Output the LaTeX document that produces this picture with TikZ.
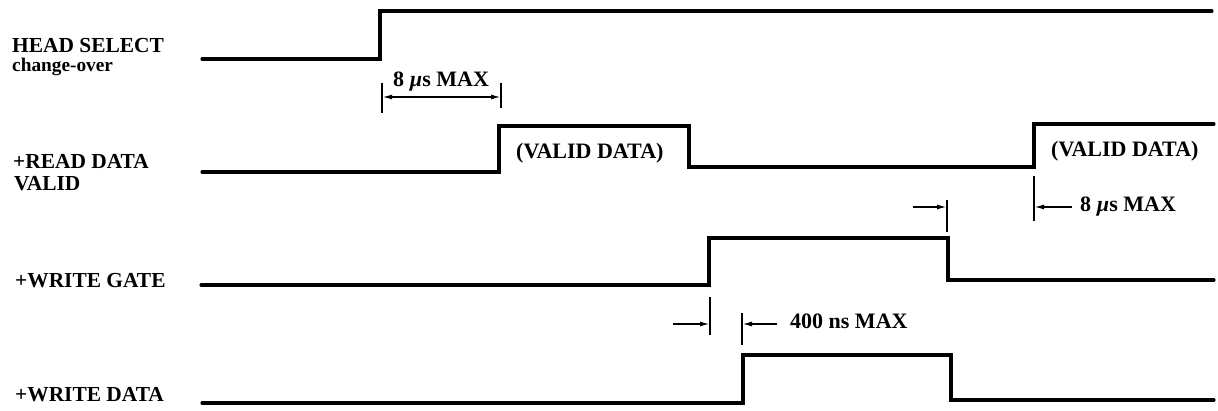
\documentclass[tikz,border=0pt]{standalone}
\usepackage{fontspec}
\setmainfont{Liberation Serif}
\usetikzlibrary{arrows.meta}
\begin{document}
\begin{tikzpicture}[x=1pt,y=-1pt,
  sig/.style={line width=3.1pt, line join=miter, line cap=round},
  tickmark/.style={line width=1.8pt},
  dimarrow/.style={line width=1.6pt, -{Latex[length=10pt,width=5pt]}},
  lbl/.style={font=\fontsize{22}{24}\selectfont\bfseries, inner sep=0pt, anchor=base west},
  side/.style={font=\fontsize{21.4}{24}\selectfont\bfseries, inner sep=0pt, anchor=base west},
  small/.style={font=\fontsize{19.3}{22}\selectfont\bfseries, inner sep=0pt, anchor=base west}]
\useasboundingbox (0,0) rectangle (1218,411);

% signal labels
\node[side] (hs) at (12,53) {HEAD SELECT};
\node[small] (co) at (12,72) {change-over};
\node[side] (rd) at (13,169) {+READ DATA};
\node[side] (rv) at (14,191) {VALID};
\node[side] (wg) at (15,288) {+WRITE GATE};
\node[side] (wd) at (15,402) {+WRITE DATA};

% waveforms
\draw[sig] (202,59) -- (380,59) -- (380,11) -- (1212,11);
\draw[sig] (202,172) -- (499,172) -- (499,126) -- (689,126) -- (689,167) -- (1034,167) -- (1034,124) -- (1214,124);
\draw[sig] (201,285) -- (709,285) -- (709,238) -- (948,238) -- (948,280) -- (1214,280);
\draw[sig] (202,403) -- (743,403) -- (743,355) -- (951,355) -- (951,400) -- (1214,400);

% data labels
\node[lbl] (vd1) at (516,159) {(VALID DATA)};
\node[lbl] (vd2) at (1051,157) {(VALID DATA)};

% 8 us MAX (top)
\coordinate (a1t) at (382,83); \coordinate (a1b) at (382,113);
\coordinate (a2t) at (501,83); \coordinate (a2b) at (501,108);
\draw[tickmark] (a1t) -- (a1b);
\draw[tickmark] (a2t) -- (a2b);
\coordinate (a1m) at (382,97); \coordinate (a2m) at (501,97);
\coordinate (amid) at (441,97);
\draw[dimarrow] (amid) -- (a1m);
\draw[dimarrow] (amid) -- (a2m);
\node[lbl] (t8a) at (393,87) {8 {\itshape µ}s MAX};

% write gate fall / 8 us MAX (right)
\coordinate (b1t) at (947,200); \coordinate (b1b) at (947,232);
\draw[tickmark] (b1t) -- (b1b);
\coordinate (b1s) at (913,207); \coordinate (b1m) at (947,207);
\draw[dimarrow] (b1s) -- (b1m);
\coordinate (c1t) at (1034,176); \coordinate (c1b) at (1034,221);
\draw[tickmark] (c1t) -- (c1b);
\coordinate (c1s) at (1072,207); \coordinate (c1m) at (1034,207);
\draw[dimarrow] (c1s) -- (c1m);
\node[lbl] (t8b) at (1080,212) {8 {\itshape µ}s MAX};

% 400 ns MAX
\coordinate (d1t) at (710,297); \coordinate (d1b) at (710,335);
\draw[tickmark] (d1t) -- (d1b);
\coordinate (d2t) at (742,313); \coordinate (d2b) at (742,345);
\draw[tickmark] (d2t) -- (d2b);
\coordinate (d1s) at (673,324); \coordinate (d1m) at (710,324);
\coordinate (d2s) at (777,324); \coordinate (d2m) at (742,324);
\draw[dimarrow] (d1s) -- (d1m);
\draw[dimarrow] (d2s) -- (d2m);
\node[lbl] (t400) at (790,329) {400 ns MAX};
\end{tikzpicture}
\end{document}
